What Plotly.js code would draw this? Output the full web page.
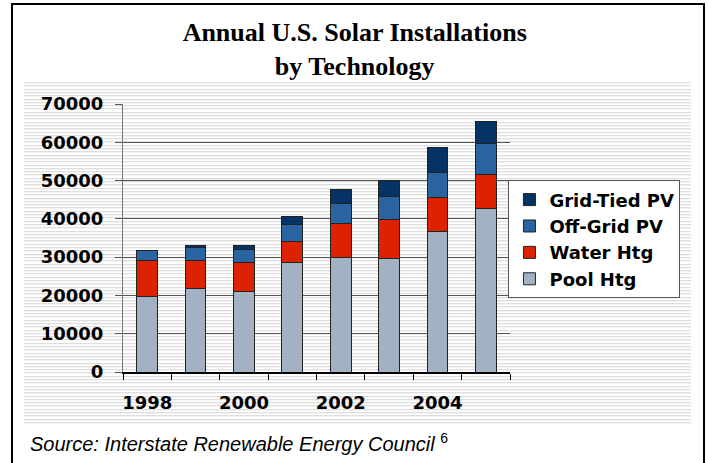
<!DOCTYPE html>
<html>
<head>
<meta charset="utf-8">
<script src="https://cdn.plot.ly/plotly-3.0.1.min.js"></script>
<style>
  html, body { margin: 0; padding: 0; background: #ffffff; }
  #wrap { position: relative; width: 708px; height: 463px; overflow: hidden; background: #ffffff; }
  #stripes { position: absolute; left: 24px; top: 82px; width: 667px; height: 343px;
    background: repeating-linear-gradient(to bottom, #dedede 0px, #dedede 1px, #f4f4f4 1px, #f4f4f4 2px, #ffffff 2px, #ffffff 3.3px); }
  #frame { position: absolute; left: 11px; top: 3px; width: 690px; height: 480px; border: 2px solid #000; }
  #chart { position: absolute; left: 0; top: 0; width: 708px; height: 463px; }
</style>
</head>
<body>
<div id="wrap">
  <div id="stripes"></div>
  <div id="frame"></div>
  <div id="chart"></div>
</div>
<script>
// ---- data ----
const years = [1998, 1999, 2000, 2001, 2002, 2003, 2004, 2005];
const poolHtg   = [19700, 21700, 21100, 28700, 29900, 29600, 36600, 42700];
const waterHtg  = [ 9300,  7400,  7500,  5400,  8800, 10300,  8900,  9000];
const offGridPV = [ 2700,  3300,  3500,  4300,  5300,  6000,  6600,  7900];
const gridTiedPV= [  150,   700,  1000,  2100,  3600,  4100,  6500,  5700];
const seriesNames = ['Pool Htg', 'Water Htg', 'Off-Grid PV', 'Grid-Tied PV'];
const seriesColors = ['#a2b2c2', '#dd2200', '#2a64a0', '#053366'];
const xTickVals = [1998, 2000, 2002, 2004];
const xTickLabels = ['1998', '2000', '2002', '2004'];
const yTickVals = [0, 10000, 20000, 30000, 40000, 50000, 60000, 70000];
const yTickLabels = ['0', '10000', '20000', '30000', '40000', '50000', '60000', '70000'];
const titleText = 'Annual U.S. Solar Installations<br>by Technology';
const sourceText = 'Source: Interstate Renewable Energy Council <sup><span style="font-style:normal">6</span></sup>';

const allSeries = [poolHtg, waterHtg, offGridPV, gridTiedPV];
const traces = allSeries.map((vals, i) => ({
  type: 'bar',
  x: years,
  y: vals,
  name: seriesNames[i],
  marker: { color: seriesColors[i], line: { color: '#222222', width: 1 } },
  hoverinfo: 'x+y+name'
}));

const tickFont = { family: 'DejaVu Sans, Verdana, sans-serif', size: 18, color: '#000', weight: 'bold' };

const layout = {
  width: 708, height: 463,
  margin: { l: 123, r: 197.5, t: 103.5, b: 91.3, pad: 0 },
  paper_bgcolor: 'rgba(0,0,0,0)',
  plot_bgcolor: 'rgba(0,0,0,0)',
  barmode: 'stack',
  bargap: 0.57,
  showlegend: true,
  title: {
    text: titleText,
    font: { family: 'Liberation Serif, Times New Roman, serif', size: 26, color: '#000', weight: 'bold' },
    xref: 'container', yref: 'container',
    x: 0.501, xanchor: 'center',
    y: 0.912, yanchor: 'top'
  },
  xaxis: {
    type: 'linear',
    range: [1997.5, 2005.5],
    tickmode: 'array', tickvals: xTickVals, ticktext: xTickLabels,
    ticks: 'outside', ticklen: 6, tickcolor: 'rgba(0,0,0,0)',
    ticklabelstandoff: 8,
    tickfont: tickFont,
    showgrid: false, zeroline: false,
    showline: true, linecolor: '#000', linewidth: 1.5,
    minor: { tick0: 1997.5, dtick: 1, ticks: 'outside', ticklen: 6, tickcolor: '#000', tickwidth: 1, showgrid: false }
  },
  yaxis: {
    range: [0, 70000],
    tickmode: 'array', tickvals: yTickVals, ticktext: yTickLabels,
    ticks: 'outside', ticklen: 7, tickcolor: '#555', tickwidth: 1,
    ticklabelstandoff: 8,
    tickfont: tickFont,
    showgrid: true, gridcolor: '#555', gridwidth: 1,
    zeroline: false,
    showline: true, linecolor: '#777', linewidth: 1
  },
  legend: {
    x: 0.996, xanchor: 'left', y: 0.715, yanchor: 'top',
    traceorder: 'reversed',
    bgcolor: '#ffffff', bordercolor: '#555', borderwidth: 1,
    font: { family: 'DejaVu Sans, Verdana, sans-serif', size: 18, color: '#000', weight: 'bold' },
    itemwidth: 30
  },
  annotations: [{
    text: sourceText,
    xref: 'paper', yref: 'paper',
    x: -0.245, xanchor: 'left',
    y: -0.262, yanchor: 'middle',
    showarrow: false,
    font: { family: 'Liberation Sans, Arial, sans-serif', size: 20, color: '#000', style: 'italic' }
  }]
};

Plotly.newPlot('chart', traces, layout, { displayModeBar: false, staticPlot: true });
</script>
</body>
</html>
